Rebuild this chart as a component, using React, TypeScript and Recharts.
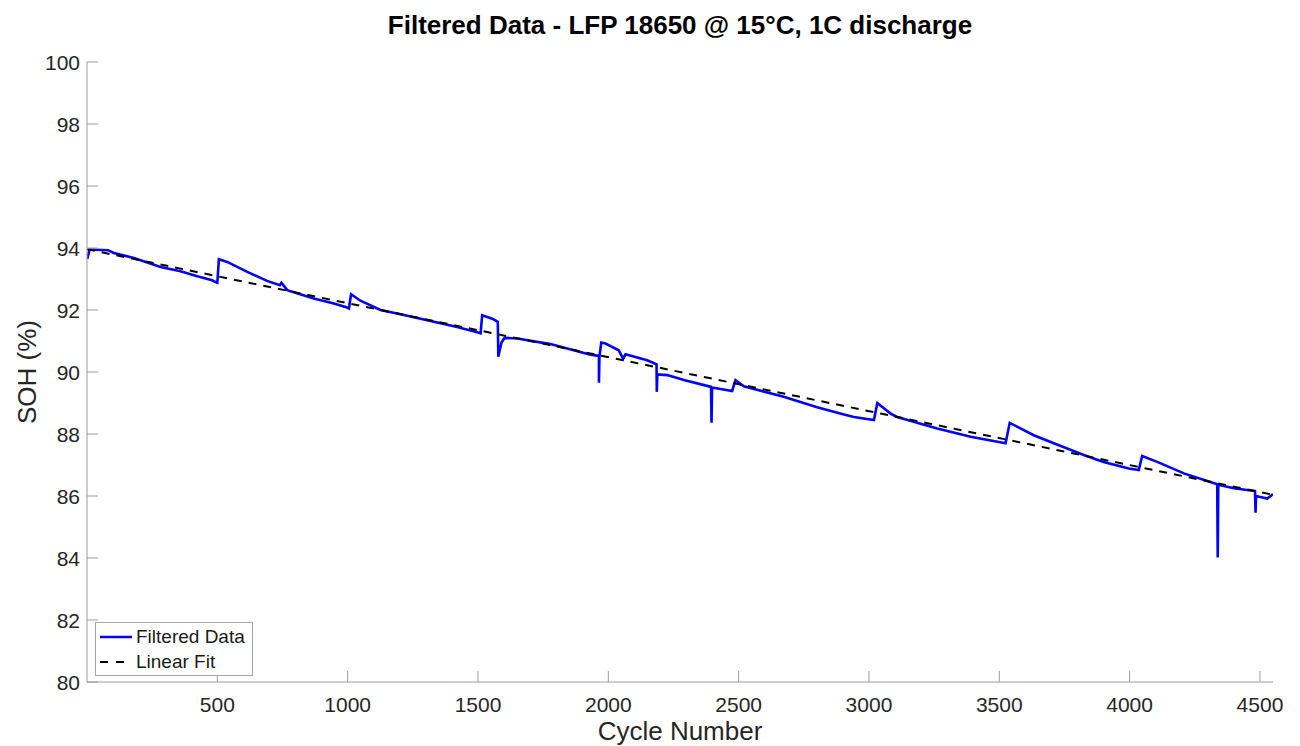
import React from "react"
import { CartesianGrid, Legend, Line, LineChart, XAxis, YAxis } from "recharts"

// filtered SOH trace
const cycles = [
  1, 10, 80, 103, 180, 282, 359, 423, 480, 493, 500, 506, 538, 615, 691, 740,
  746, 768, 870, 947, 998, 1005, 1013, 1049, 1126, 1203, 1331, 1420, 1497,
  1510, 1516, 1555, 1576, 1578, 1590, 1602, 1651, 1778, 1860, 1932, 1964,
  1964, 1966, 1973, 1989, 2040, 2057, 2066, 2149, 2185, 2186, 2188, 2226,
  2290, 2394, 2396, 2398, 2475, 2488, 2520, 2673, 2801, 2904, 2942, 3019,
  3032, 3083, 3108, 3262, 3390, 3524, 3540, 3581, 3632, 3709, 3824, 3900,
  3997, 4035, 4048, 4106, 4208, 4336, 4338, 4340, 4400, 4481, 4483, 4485,
  4528, 4550,
]
const soh = [
  93.65, 93.95, 93.93, 93.84, 93.68, 93.39, 93.25, 93.09, 92.96, 92.9, 92.88,
  93.64, 93.55, 93.23, 92.94, 92.8, 92.88, 92.64, 92.37, 92.21, 92.08, 92.05,
  92.51, 92.3, 92.0, 91.86, 91.62, 91.45, 91.28, 91.25, 91.83, 91.72, 91.62,
  90.49, 90.95, 91.1, 91.08, 90.9, 90.72, 90.56, 90.52, 89.65, 90.5, 90.95,
  90.92, 90.7, 90.43, 90.57, 90.38, 90.25, 89.36, 89.92, 89.9, 89.74, 89.52,
  88.36, 89.5, 89.39, 89.74, 89.54, 89.2, 88.86, 88.63, 88.55, 88.45, 89.0,
  88.66, 88.55, 88.18, 87.91, 87.7, 88.36, 88.18, 87.96, 87.7, 87.32, 87.1,
  86.89, 86.84, 87.29, 87.1, 86.73, 86.38, 84.02, 86.36, 86.25, 86.16, 85.46,
  86.0, 85.92, 86.06,
]

// linear fit end points
const fitCycles = [0, 4550]
const fitSoh = [93.96, 86.04]

const xTicks = [500, 1000, 1500, 2000, 2500, 3000, 3500, 4000, 4500]
const yTicks = [80, 82, 84, 86, 88, 90, 92, 94, 96, 98, 100]

const filtered = cycles.map((c, i) => ({ cycle: c, soh: soh[i] }))
const fit = fitCycles.map((c, i) => ({ cycle: c, soh: fitSoh[i] }))

const FONT = '"Liberation Sans", Arial, Helvetica, sans-serif'
const box = { left: 87, right: 1273, top: 62, bottom: 682 }
const axisColor = "#9c9c9c"
const tickLen = 11
const textColor = "#262626"

const BottomTick = (props: any) => {
  const { x, payload } = props
  return (
    <g>
      <line x1={x} x2={x} y1={box.bottom} y2={box.bottom - tickLen} stroke={axisColor} />
      <text x={x} y={box.bottom + 30} textAnchor="middle" fontSize={21} fill={textColor} fontFamily={FONT}>
        {payload.value}
      </text>
    </g>
  )
}

const TopTick = (props: any) => {
  const { x } = props
  return <line x1={x} x2={x} y1={box.top} y2={box.top + tickLen} stroke={axisColor} />
}

const LeftTick = (props: any) => {
  const { y, payload } = props
  return (
    <g>
      <line x1={box.left} x2={box.left + tickLen} y1={y} y2={y} stroke={axisColor} />
      <text x={box.left - 7} y={y} dy="0.36em" textAnchor="end" fontSize={21} fill={textColor} fontFamily={FONT}>
        {payload.value}
      </text>
    </g>
  )
}

const RightTick = (props: any) => {
  const { y } = props
  return <line x1={box.right} x2={box.right - tickLen} y1={y} y2={y} stroke={axisColor} />
}

const LegendBox = () => (
  <div
    style={{
      boxSizing: "border-box",
      border: "1px solid #a6a6a6",
      background: "#fff",
      padding: "1px 4px 1px 4px",
      fontFamily: FONT,
      fontSize: 19,
      color: "#1a1a1a",
      lineHeight: "25px",
      width: 158,
      whiteSpace: "nowrap",
    }}
  >
    <div style={{ display: "flex", alignItems: "center" }}>
      <svg width={32} height={10} style={{ marginRight: 4, flex: "none" }}>
        <line x1={0} x2={32} y1={5} y2={5} stroke="#0000ff" strokeWidth={2.5} />
      </svg>
      Filtered Data
    </div>
    <div style={{ display: "flex", alignItems: "center" }}>
      <svg width={32} height={10} style={{ marginRight: 4, flex: "none" }}>
        <line x1={0} x2={32} y1={5} y2={5} stroke="#000" strokeWidth={2} strokeDasharray="8 8" />
      </svg>
      Linear Fit
    </div>
  </div>
)

export default function App() {
  return (
    <div style={{ position: "absolute", left: 0, top: 0, width: 1300, height: 746, background: "#fff" }}>
      <div
        style={{
          position: "absolute",
          left: box.left,
          width: box.right - box.left,
          top: 10,
          textAlign: "center",
          fontFamily: FONT,
          fontWeight: "bold",
          fontSize: 26,
          color: "#000",
        }}
      >
        Filtered Data - LFP 18650 @ 15°C, 1C discharge
      </div>
      <div
        style={{
          position: "absolute",
          left: box.left,
          width: box.right - box.left,
          top: 716,
          lineHeight: "30px",
          textAlign: "center",
          fontFamily: FONT,
          fontSize: 26,
          color: textColor,
        }}
      >
        Cycle Number
      </div>
      <div
        style={{
          position: "absolute",
          left: 27,
          top: (box.top + box.bottom) / 2,
          transform: "translate(-50%, -50%) rotate(-90deg)",
          whiteSpace: "nowrap",
          fontFamily: FONT,
          fontSize: 26,
          color: textColor,
        }}
      >
        SOH (%)
      </div>
      <LineChart
        width={1300}
        height={746}
        margin={{ top: box.top, right: 1300 - box.right, bottom: 0, left: 0 }}
        style={{ position: "absolute", left: 0, top: 0 }}
      >
        <CartesianGrid stroke="#e6e6e6" strokeWidth={1} horizontalValues={yTicks} verticalValues={xTicks} />
        <XAxis
          xAxisId="bottom"
          type="number"
          dataKey="cycle"
          domain={[0, 4550]}
          ticks={xTicks}
          allowDataOverflow
          height={746 - box.bottom}
          axisLine={{ stroke: axisColor }}
          tickLine={false}
          tick={BottomTick}
          interval={0}
        />
        <XAxis
          xAxisId="top"
          orientation="top"
          type="number"
          dataKey="cycle"
          domain={[0, 4550]}
          ticks={xTicks}
          allowDataOverflow
          height={0}
          axisLine={{ stroke: axisColor }}
          tickLine={false}
          tick={TopTick}
          interval={0}
        />
        <YAxis
          yAxisId="left"
          type="number"
          domain={[80, 100]}
          ticks={yTicks}
          allowDataOverflow
          width={box.left}
          axisLine={{ stroke: axisColor }}
          tickLine={false}
          tick={LeftTick}
          interval={0}
        />
        <YAxis
          yAxisId="right"
          orientation="right"
          type="number"
          domain={[80, 100]}
          ticks={yTicks}
          allowDataOverflow
          width={0}
          axisLine={{ stroke: axisColor }}
          tickLine={false}
          tick={RightTick}
          interval={0}
        />
        <Line
          xAxisId="bottom"
          yAxisId="left"
          data={filtered}
          dataKey="soh"
          name="Filtered Data"
          type="linear"
          stroke="#0000ff"
          strokeWidth={2.6}
          dot={false}
          isAnimationActive={false}
        />
        <Line
          xAxisId="bottom"
          yAxisId="left"
          data={fit}
          dataKey="soh"
          name="Linear Fit"
          type="linear"
          stroke="#000000"
          strokeWidth={2}
          strokeDasharray="8 7"
          dot={false}
          isAnimationActive={false}
        />
        <Legend
          layout="vertical"
          align="center"
          verticalAlign="middle"
          content={LegendBox}
          wrapperStyle={{ left: 95, top: 622, width: "auto", height: "auto" }}
        />
      </LineChart>
    </div>
  )
}
